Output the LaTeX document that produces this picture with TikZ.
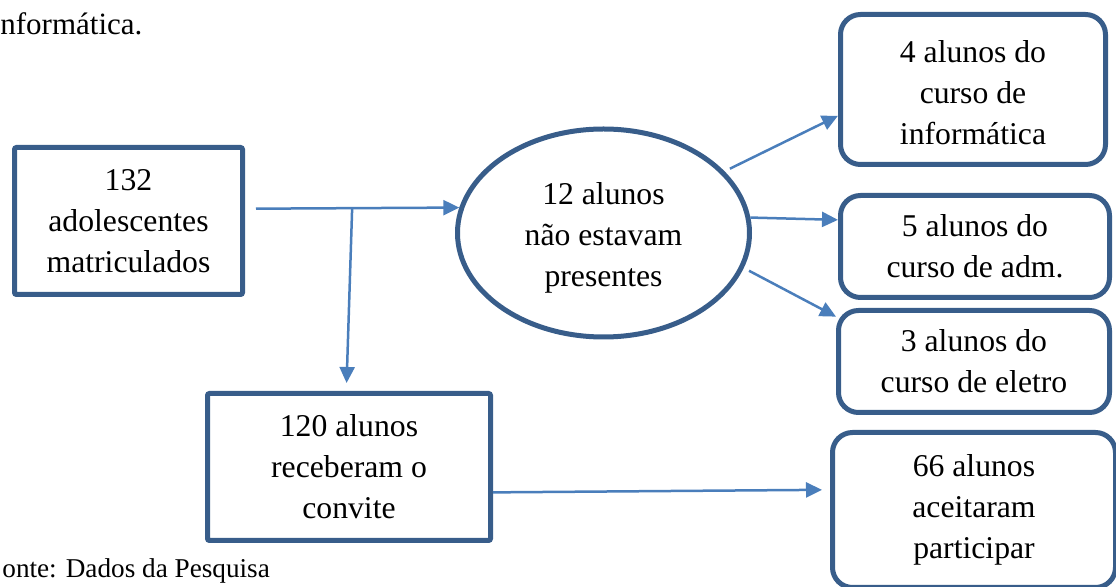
\documentclass[tikz,border=0pt]{standalone}
\usepackage{fontspec}
\setmainfont{Liberation Serif}
\usetikzlibrary{arrows.meta, shapes.geometric}
\definecolor{boxblue}{HTML}{385D8A}
\definecolor{arrowblue}{HTML}{4A7EBB}
\tikzset{
  caixa/.style={draw=boxblue, line width=2.5pt, inner sep=0pt, align=center,
    font=\fontsize{15.85pt}{20.5pt}\selectfont, rounded corners=1pt},
  caixaredonda/.style={caixa, rounded corners=10pt},
  seta/.style={->, draw=arrowblue, line width=1.25pt},
}
\begin{document}
\begin{tikzpicture}[x=0.5pt, y=-0.5pt, >={Triangle[length=8pt, width=7.5pt]}]
    \useasboundingbox (0,0) rectangle (1116,587);
    \clip (0,0) rectangle (1116,587);

    % Texts around the figure
    \node[anchor=base west, inner sep=0pt, font=\fontsize{15.5pt}{18pt}\selectfont] (cap) at (0,35) {nformática.};
    \node[anchor=base west, inner sep=0pt, font=\fontsize{13.6pt}{16pt}\selectfont] (fonte) at (2,578) {onte: Dados da Pesquisa};

    % Define nodes
    \node[caixa, minimum width=114pt, minimum height=73.5pt] (matric) at (128.5,221) {132\\adolescentes\\matriculados};
    \node[caixa, ellipse, minimum width=146pt, minimum height=104pt] (ausentes) at (603.5,233) {\rule{0pt}{16pt}12 alunos\\não estavam\\presentes};
    \node[caixaredonda, minimum width=132.5pt, minimum height=75pt] (info) at (973,89.5) {\rule{0pt}{14pt}4 alunos do\\curso de\\informática};
    \node[caixaredonda, minimum width=134.5pt, minimum height=51pt] (adm) at (975,246.5) {5 alunos do\\curso de adm.};
    \node[caixaredonda, minimum width=135.5pt, minimum height=51pt] (eletro) at (974,361.5) {3 alunos do\\curso de eletro};
    \node[caixa, minimum width=141.5pt, minimum height=73.5pt] (convite) at (349,467) {120 alunos\\receberam o\\convite};
    \node[caixaredonda, minimum width=141.5pt, minimum height=77.5pt] (aceite) at (974,510) {66 alunos\\aceitaram\\participar};

    % Draw edges with arrows
    \draw[seta, shorten <=5.5pt] (matric.6) -- (ausentes.170) coordinate[pos=0.5] (split);
    \draw[seta, shorten >=4pt] (split) -- (convite.92);
    \draw[seta, shorten <=3pt] (ausentes.27) -- (info.191);
    \draw[seta] (ausentes.6) -- (adm.169);
    \draw[seta, shorten <=3pt] (ausentes.-14) -- (eletro.162);
    \draw[seta, shorten >=4pt] (convite.-10) -- (aceite.172);

\end{tikzpicture}
\end{document}
